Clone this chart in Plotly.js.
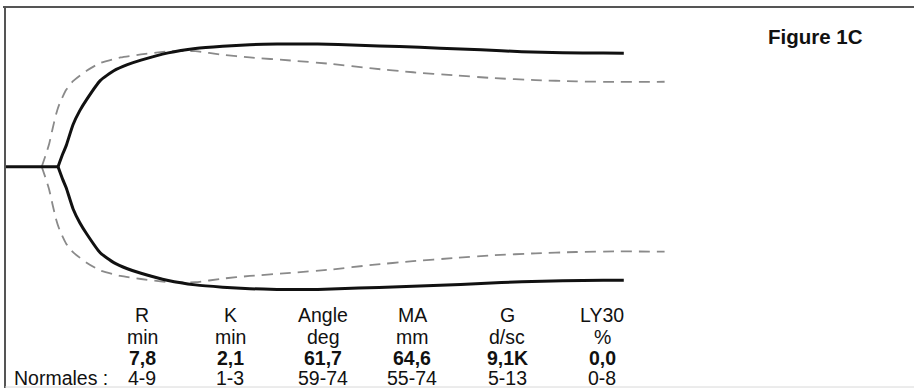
<!DOCTYPE html>
<html>
<head>
<meta charset="utf-8">
<script src="https://cdn.plot.ly/plotly-3.0.1.min.js"></script>
<style>html,body{margin:0;padding:0;background:#fff;}#chart{width:914px;height:388px;}</style>
</head>
<body>
<div id="chart"></div>
<script>
// Patient trace (solid): time (min) and amplitude (mm); flat until R = 7.8 min
const patientR = 7.8;
const patientTime = [7.8, 8.5, 9, 10, 11, 12, 14, 16, 18, 20, 24, 28, 32, 36, 40, 46, 52, 58, 64, 70, 76, 82, 88, 91];
const patientAmp  = [0, 6.8, 11.1, 22.1, 29.5, 35.3, 45.3, 50.5, 53.7, 56.1, 59.9, 62.2, 63.4, 64.2, 64.6, 64.6, 63.9, 63.2, 62.4, 61.5, 60.5, 60.0, 59.8, 59.7];

// Normal reference trace (dashed)
const normalTime = [5.4, 6, 6.5, 7, 7.5, 8, 9, 10, 12, 14, 17, 20, 24, 28, 32, 36, 42, 48, 54, 60, 66, 72, 78, 84, 90, 97];
const normalAmp  = [0, 6.3, 12.1, 20.0, 27.5, 33.0, 40.5, 45.0, 50.5, 54.6, 57.5, 59.1, 60.7, 60.8, 58.9, 57.5, 55.9, 54.1, 51.7, 49.7, 48.1, 46.6, 45.6, 44.9, 44.6, 44.7];

// Parameter table
const paramNames   = ['R', 'K', 'Angle', 'MA', 'G', 'LY30'];
const paramUnits   = ['min', 'min', 'deg', 'mm', 'd/sc', '%'];
const paramValues  = ['7,8', '2,1', '61,7', '64,6', '9,1K', '0,0'];
const paramNormals = ['4-9', '1-3', '59-74', '55-74', '5-13', '0-8'];
const normalsLabel = 'Normales :';
const figureLabel = 'Figure 1C';

// ---- layout helpers (pixel positions) ----
const W = 914, H = 388, ML = 5, MT = 7;
const PW = W - ML, PH = H - MT;
const px = x => (x - ML) / PW;
const py = y => (H - y) / PH;
const colX = [142, 230, 323, 412, 507, 602];
const rowY = [315, 337, 358, 378];
const FONT = 'Liberation Sans, Arial, sans-serif';
const FS = 19.5;

const half = a => a.map(v => v / 2);
const negHalf = a => a.map(v => -v / 2);

const solid = {color: '#111', width: 3, shape: 'spline', smoothing: 0.5};
const solidFlat = {color: '#111', width: 3};
const dashed = {color: '#8a8a8a', width: 1.8, dash: '11px,7px', shape: 'spline', smoothing: 0.5};

const traces = [
  {x: normalTime, y: half(normalAmp), mode: 'lines', line: dashed, hoverinfo: 'skip'},
  {x: normalTime, y: negHalf(normalAmp), mode: 'lines', line: dashed, hoverinfo: 'skip'},
  {x: [0, patientR], y: [0, 0], mode: 'lines', line: solidFlat, hoverinfo: 'skip'},
  {x: patientTime, y: half(patientAmp), mode: 'lines', line: solid, hoverinfo: 'skip'},
  {x: patientTime, y: negHalf(patientAmp), mode: 'lines', line: solid, hoverinfo: 'skip'}
];

const annotations = [];
const rows = [paramNames, paramUnits, paramValues, paramNormals];
rows.forEach((row, r) => {
  row.forEach((txt, i) => {
    annotations.push({
      xref: 'paper', yref: 'paper', x: px(colX[i]), y: py(rowY[r]),
      xanchor: 'center', yanchor: 'middle', showarrow: false,
      text: r === 2 ? '<b>' + txt + '</b>' : txt,
      font: {family: FONT, size: FS, color: '#111'}
    });
  });
});
annotations.push({
  xref: 'paper', yref: 'paper', x: px(110), y: py(rowY[3]),
  xanchor: 'right', yanchor: 'middle', showarrow: false,
  text: normalsLabel, font: {family: FONT, size: FS, color: '#111'}
});
annotations.push({
  xref: 'paper', yref: 'paper', x: px(815), y: py(36),
  xanchor: 'center', yanchor: 'middle', showarrow: false,
  text: '<b>' + figureLabel + '</b>', font: {family: FONT, size: 20.5, color: '#111'}
});

const layout = {
  width: W, height: H,
  margin: {l: ML, r: 0, t: MT, b: 0, pad: 0},
  paper_bgcolor: '#fff', plot_bgcolor: '#fff',
  showlegend: false,
  xaxis: {range: [0, PW / 6.8], visible: false, fixedrange: true},
  yaxis: {range: [-(PH - 159.7) / 3.8, 159.7 / 3.8], visible: false, fixedrange: true},
  annotations: annotations,
  shapes: [
    {type: 'line', xref: 'paper', yref: 'paper', x0: px(3), x1: px(914), y0: py(7), y1: py(7), line: {color: '#555', width: 2}},
    {type: 'line', xref: 'paper', yref: 'paper', x0: px(5), x1: px(5), y0: py(7), y1: py(388), line: {color: '#555', width: 2}},
    {type: 'line', xref: 'paper', yref: 'paper', x0: px(5), x1: px(914), y0: py(387), y1: py(387), line: {color: '#d8d8d8', width: 1}}
  ]
};

Plotly.newPlot('chart', traces, layout, {displayModeBar: false, staticPlot: true});
</script>
</body>
</html>
